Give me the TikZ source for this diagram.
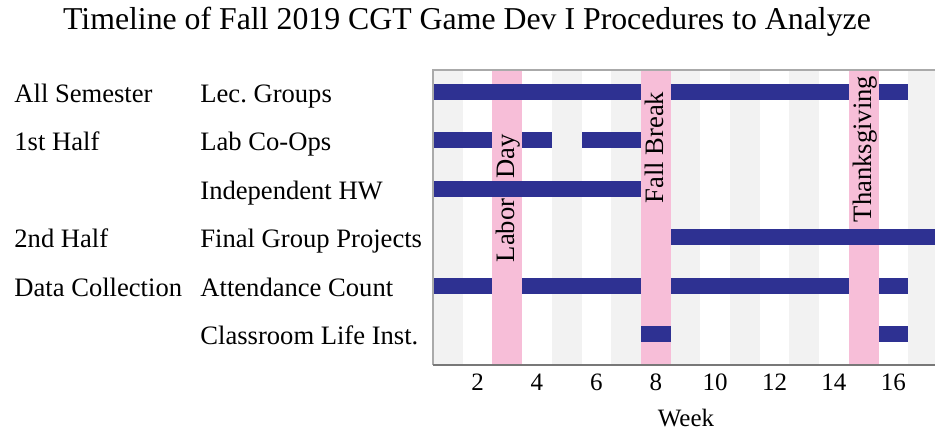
\documentclass[tikz,border=0pt]{standalone}
\usepackage{fontspec}
\setmainfont{Liberation Serif}
\frenchspacing

\definecolor{barblue}{RGB}{46,49,146}
\definecolor{breakpink}{RGB}{247,190,216}
\definecolor{weekgray}{RGB}{242,242,242}
\definecolor{framegray}{RGB}{170,170,170}
\definecolor{axisgray}{RGB}{120,120,120}

\newcommand{\wkx}[1]{433+(#1-1)*29.7}
\newcommand{\rowy}[1]{92+(#1-1)*48.5}

\begin{document}
\begin{tikzpicture}[x = 0.5pt, y = -0.5pt,
        weekshade/.style = {fill = weekgray},
        breakband/.style = {fill = breakpink},
        taskbar/.style = {fill = barblue},
        rowlabel/.style = {anchor = base west, inner sep = 0pt,
                           font = \fontsize{13.3}{16}\selectfont},
        breaklabel/.style = {rotate = 90, anchor = base, inner sep = 0pt,
                             font = \fontsize{13.3}{16}\selectfont},
        ticklabel/.style = {anchor = base, inner sep = 0pt,
                            font = \fontsize{12.5}{15}\selectfont}]
        \useasboundingbox (0, 0) rectangle (935, 431);

        \node [anchor = base, inner sep = 0pt, font = \fontsize{15.9}{19}\selectfont]
            (title) at (467, 30) {Timeline of Fall 2019 CGT Game Dev I Procedures to Analyze};

        \begin{scope}
            \clip (433, 70) rectangle (935, 365);
            \foreach \w in {1, 3, ..., 17}
                \fill [weekshade] ({\wkx{\w}}, 70) rectangle ({\wkx{\w} + 29.7}, 365);
            \foreach \w in {3, 8, 15}
                \fill [breakband] ({\wkx{\w}}, 70) rectangle ({\wkx{\w} + 29.7}, 365);

            \node [breaklabel] (labor) at (514, 230.5) {Labor};
            \node [breaklabel] (day) at (514, 156.5) {Day};
            \node [breaklabel] (fallbreak) at (663, 147.5) {Fall Break};
            \node [breaklabel] (thanks) at (871, 149) {Thanksgiving};

            \foreach \r/\a/\b in {1/1/7, 1/9/14, 1/16/16,
                                  2/1/2, 2/4/4, 2/6/7,
                                  3/1/7,
                                  4/9/18,
                                  5/1/2, 5/4/7, 5/9/14, 5/16/16,
                                  6/8/8, 6/16/16}
                \fill [taskbar] ({\wkx{\a}}, {\rowy{\r} - 8})
                    rectangle ({\wkx{\b} + 29.7}, {\rowy{\r} + 8});
        \end{scope}

        \draw [framegray, line width = 0.8pt] (935, 70) -- (433, 70) -- (433, 365);
        \draw [axisgray, line width = 1pt] (433, 365) -- (935, 365);

        \node [rowlabel] (grpall) at (14, {\rowy{1} + 10.5}) {All Semester};
        \node [rowlabel] (grpfirst) at (14, {\rowy{2} + 10.5}) {1st Half};
        \node [rowlabel] (grpsecond) at (14, {\rowy{4} + 10.5}) {2nd Half};
        \node [rowlabel] (grpdata) at (14, {\rowy{5} + 10.5}) {Data Collection};

        \node [rowlabel] (lecgroups) at (200, {\rowy{1} + 10.5}) {Lec. Groups};
        \node [rowlabel] (labcoops) at (200, {\rowy{2} + 10.5}) {Lab Co-Ops};
        \node [rowlabel] (indephw) at (200, {\rowy{3} + 10.5}) {Independent HW};
        \node [rowlabel] (finalproj) at (200, {\rowy{4} + 10.5}) {Final Group Projects};
        \node [rowlabel] (attendance) at (200, {\rowy{5} + 10.5}) {Attendance Count};
        \node [rowlabel] (classlife) at (200, {\rowy{6} + 10.5}) {Classroom Life Inst.};

        \foreach \n in {2, 4, ..., 16}
            \node [ticklabel] (tick\n) at ({\wkx{\n} + 14.85}, 391) {\n};
        \node [ticklabel] (week) at (686, 427) {Week};
    \end{tikzpicture}
\end{document}
